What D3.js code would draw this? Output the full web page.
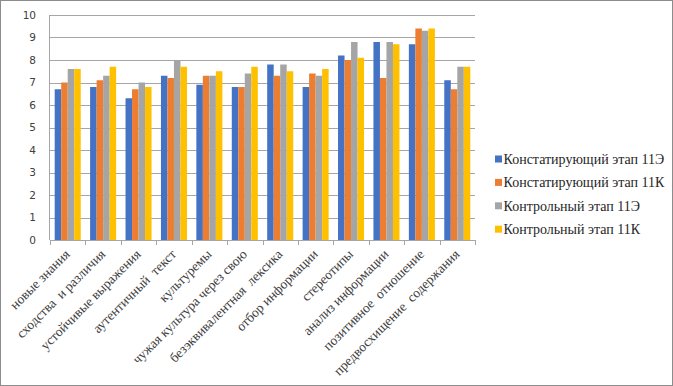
<!DOCTYPE html>
<html>
<head>
<meta charset="utf-8">
<script src="https://cdn.jsdelivr.net/npm/d3@7"></script>
<style>
    body { margin: 0; background: #fff; }
    svg { display: block; }
</style>
</head>
<body>
<div id="chart"></div>
<script>
// categories (x axis labels)
const categories = [
    "новые знания", "сходства  и различия", "устойчивые выражения", "аутентичный  текст",
    "культуремы", "чужая культура через свою", "безэквивалентная  лексика", "отбор информации",
    "стереотипы", "анализ информации", "позитивное  отношение", "предвосхищение  содержания"
];
const seriesNames = ["Констатирующий этап 11Э", "Констатирующий этап 11К", "Контрольный этап 11Э", "Контрольный этап 11К"];
const konst11E = [6.7, 6.8, 6.3, 7.3, 6.9, 6.8, 7.8, 6.8, 8.2, 8.8, 8.7, 7.1];
const konst11K = [7.0, 7.1, 6.7, 7.2, 7.3, 6.8, 7.3, 7.4, 8.0, 7.2, 9.4, 6.7];
const kontr11E = [7.6, 7.3, 7.0, 8.0, 7.3, 7.4, 7.8, 7.3, 8.8, 8.8, 9.3, 7.7];
const kontr11K = [7.6, 7.7, 6.8, 7.7, 7.5, 7.7, 7.5, 7.6, 8.1, 8.7, 9.4, 7.7];
const yTicks = [0, 1, 2, 3, 4, 5, 6, 7, 8, 9, 10];
const colors = ["#4472C4", "#ED7D31", "#A5A5A5", "#FFC000"];

const seriesValues = [konst11E, konst11K, kontr11E, kontr11K];
const data = categories.map((c, i) => ({ cat: c, vals: seriesValues.map(s => s[i]) }));

const W = 673, H = 386;
const margin = { top: 15, left: 50, right: 198, bottom: 146 };
const width = W - margin.left - margin.right;
const height = H - margin.top - margin.bottom;

const svg = d3.select("#chart").append("svg")
    .attr("width", W)
    .attr("height", H);

// outer border
svg.append("rect")
    .attr("x", 0.5).attr("y", 0.5)
    .attr("width", W - 1).attr("height", H - 1)
    .attr("fill", "#fff").attr("stroke", "#8c8c8c");

const g = svg.append("g")
    .attr("transform", `translate(${margin.left},${margin.top})`);

const x0 = d3.scaleBand()
    .domain(categories)
    .range([0, width])
    .paddingInner(0.265)
    .paddingOuter(0.1325);

const x1 = d3.scaleBand()
    .domain(d3.range(4))
    .range([0, x0.bandwidth()]);

const y = d3.scaleLinear()
    .domain([0, 10])
    .range([height, 0]);

// gridlines
g.selectAll(".grid")
    .data(yTicks.filter(t => t > 0))
    .enter().append("line")
    .attr("class", "grid")
    .attr("x1", 0).attr("x2", width)
    .attr("y1", d => Math.round(y(d)) + 0.5)
    .attr("y2", d => Math.round(y(d)) + 0.5)
    .attr("stroke", "#a6a6a6");

// y axis labels
g.selectAll(".ylab")
    .data(yTicks)
    .enter().append("text")
    .attr("class", "ylab")
    .attr("x", -14)
    .attr("y", d => y(d))
    .attr("dy", "0.35em")
    .attr("text-anchor", "end")
    .attr("font-family", "'DejaVu Sans', sans-serif")
    .attr("font-size", 10.5)
    .attr("fill", "#404040")
    .text(d => d);

// vertical axis line
g.append("line")
    .attr("x1", -0.5).attr("x2", -0.5)
    .attr("y1", 0).attr("y2", height)
    .attr("stroke", "#a6a6a6");

// bars
const groups = g.selectAll(".grp")
    .data(data)
    .enter().append("g")
    .attr("class", "grp")
    .attr("transform", d => `translate(${x0(d.cat)},0)`);

groups.selectAll("rect")
    .data(d => d.vals)
    .enter().append("rect")
    .attr("x", (d, i) => x1(i))
    .attr("y", d => y(d))
    .attr("width", x1.bandwidth())
    .attr("height", d => height - y(d))
    .attr("fill", (d, i) => colors[i]);

// x axis
const xAxis = d3.axisBottom(x0).tickSize(0).tickFormat("");
const xg = g.append("g")
    .attr("transform", `translate(0,${height})`)
    .call(xAxis);
xg.select(".domain").attr("stroke", "#a6a6a6");

// tick marks between categories
const step = x0.step();
g.selectAll(".xtick")
    .data(d3.range(categories.length + 1))
    .enter().append("line")
    .attr("class", "xtick")
    .attr("x1", i => Math.round(i * step) + 0.5)
    .attr("x2", i => Math.round(i * step) + 0.5)
    .attr("y1", height).attr("y2", height + 5)
    .attr("stroke", "#a6a6a6");

// rotated category labels
g.selectAll(".xlab")
    .data(categories)
    .enter().append("text")
    .attr("class", "xlab")
    .attr("transform", d => `translate(${x0(d) + x0.bandwidth() / 2 + 3},${height + 15}) rotate(-45)`)
    .attr("text-anchor", "end")
    .attr("font-family", "'Liberation Serif', serif")
    .attr("font-size", 13.5)
    .attr("fill", "#404040")
    .style("white-space", "pre")
    .text(d => d);

// legend
const legend = svg.append("g")
    .attr("transform", "translate(495,159)");

const li = legend.selectAll(".li")
    .data(seriesNames)
    .enter().append("g")
    .attr("class", "li")
    .attr("transform", (d, i) => `translate(0,${i * 23.4})`);

li.append("rect")
    .attr("x", 0).attr("y", -3.5)
    .attr("width", 7).attr("height", 7)
    .attr("fill", (d, i) => colors[i]);

li.append("text")
    .attr("x", 8.5)
    .attr("y", 0)
    .attr("dy", "0.35em")
    .attr("font-family", "'Liberation Serif', serif")
    .attr("font-size", 14)
    .attr("fill", "#262626")
    .text(d => d);
</script>
</body>
</html>
